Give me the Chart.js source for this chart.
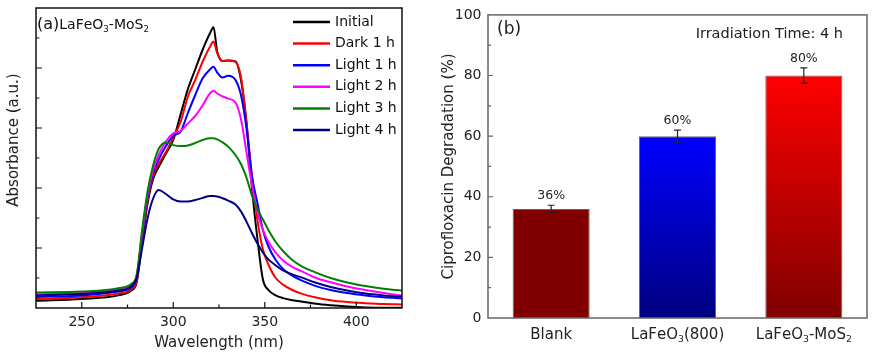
<!DOCTYPE html>
<html>
<head>
<meta charset="utf-8">
<script src="https://cdn.jsdelivr.net/npm/chart.js@4"></script>
<style>
  body { margin: 0; background: #fff; }
  #wrap { position: relative; width: 872px; height: 356px; }
  canvas { position: absolute; top: 0; }
</style>
</head>
<body>
<div id="wrap">
  <canvas id="spec" width="436" height="356" style="left:0"></canvas>
  <canvas id="bars" width="436" height="356" style="left:436px"></canvas>
</div>
<script>
// ---- (a) UV-vis spectra ----
const wavelengths = [225, 250, 270, 277, 280, 283, 286, 289, 292, 296, 300, 304, 308, 312, 316, 320, 322, 324, 327, 330, 334, 337, 340, 343, 346, 349, 352, 356, 360, 365, 370, 378, 386, 395, 405, 415, 425];
const initial = [0.24, 0.30, 0.42, 0.58, 0.85, 2.2, 3.5, 4.3, 4.7, 5.15, 5.6, 6.45, 7.3, 7.95, 8.6, 9.15, 9.36, 8.55, 8.23, 8.25, 8.22, 7.6, 6.2, 4.0, 2.3, 0.95, 0.6, 0.42, 0.33, 0.26, 0.22, 0.14, 0.09, 0.05, 0.02, 0.01, 0.01];
const dark1h = [0.30, 0.36, 0.48, 0.62, 0.9, 2.3, 3.6, 4.4, 4.8, 5.2, 5.68, 6.2, 7.05, 7.6, 8.2, 8.7, 8.88, 8.5, 8.23, 8.25, 8.2, 7.7, 6.2, 4.4, 2.93, 1.95, 1.45, 1.0, 0.78, 0.6, 0.48, 0.35, 0.26, 0.2, 0.16, 0.13, 0.12];
const light1h = [0.37, 0.42, 0.55, 0.68, 1.0, 2.4, 3.7, 4.5, 4.95, 5.4, 5.74, 5.88, 6.5, 7.1, 7.65, 7.95, 8.04, 7.85, 7.68, 7.74, 7.6, 7.1, 6.0, 4.4, 3.5, 2.6, 2.05, 1.6, 1.3, 1.08, 0.92, 0.73, 0.6, 0.5, 0.42, 0.36, 0.32];
const light2h = [0.45, 0.5, 0.62, 0.75, 1.05, 2.5, 3.8, 4.6, 5.1, 5.55, 5.82, 5.9, 6.15, 6.4, 6.75, 7.15, 7.24, 7.15, 7.05, 6.98, 6.85, 6.3, 5.2, 4.1, 3.2, 2.6, 2.2, 1.85, 1.58, 1.37, 1.23, 1.0, 0.86, 0.72, 0.6, 0.5, 0.42];
const light3h = [0.52, 0.55, 0.66, 0.8, 1.1, 2.6, 3.9, 4.75, 5.3, 5.52, 5.43, 5.4, 5.42, 5.5, 5.6, 5.66, 5.66, 5.62, 5.52, 5.38, 5.1, 4.8, 4.35, 3.75, 3.3, 2.95, 2.6, 2.2, 1.9, 1.6, 1.4, 1.18, 1.0, 0.85, 0.73, 0.64, 0.58];
const light4h = [0.42, 0.47, 0.58, 0.72, 1.0, 2.0, 3.0, 3.65, 3.93, 3.8, 3.62, 3.55, 3.55, 3.6, 3.67, 3.73, 3.73, 3.72, 3.66, 3.58, 3.45, 3.22, 2.88, 2.5, 2.15, 1.85, 1.62, 1.42, 1.25, 1.12, 1.02, 0.84, 0.7, 0.58, 0.48, 0.42, 0.38];
const seriesNames = ['Initial', 'Dark 1 h', 'Light 1 h', 'Light 2 h', 'Light 3 h', 'Light 4 h'];
const seriesValues = [initial, dark1h, light1h, light2h, light3h, light4h];
const seriesColors = ['#000000', '#ff0000', '#0000ff', '#ff00ff', '#008000', '#000080'];
const xMajor = [250, 300, 350, 400];
const xMinor = [275, 325, 375];
const yMajorA = [2, 4, 6, 8];
const yMinorA = [1, 3, 5, 7, 9];

// ---- (b) degradation ----
const categories = ['Blank', 'LaFeO_3(800)', 'LaFeO_3-MoS_2'];
const degradation = [36, 60, 80];
const errors = [1.2, 2, 2.5];
const barTop = ['#800000', '#0000ff', '#ff0000'];
const barBottom = ['#800000', '#000080', '#800000'];
const yMajorB = [20, 40, 60, 80];
const yMinorB = [10, 30, 50, 70, 90];

const FONT = '"DejaVu Sans", Verdana, sans-serif';
Chart.defaults.font.family = FONT;
Chart.defaults.color = '#222';

// text with "_x" meaning subscript x
function richText(ctx, text, x, y, size, align) {
  const parts = [];
  for (let i = 0; i < text.length; i++) {
    if (text[i] === '_') { parts.push({ t: text[i + 1], sub: true }); i++; }
    else parts.push({ t: text[i], sub: false });
  }
  let w = 0;
  parts.forEach(p => {
    ctx.font = (p.sub ? size * 0.62 : size) + 'px ' + FONT;
    p.w = ctx.measureText(p.t).width;
    w += p.w;
  });
  let cx = align === 'center' ? x - w / 2 : align === 'right' ? x - w : x;
  ctx.textAlign = 'left';
  ctx.textBaseline = 'alphabetic';
  parts.forEach(p => {
    ctx.font = (p.sub ? size * 0.62 : size) + 'px ' + FONT;
    ctx.fillText(p.t, cx, p.sub ? y + size * 0.24 : y);
    cx += p.w;
  });
}

function boxAndTicks(chart, color, xt, yt) {
  const { ctx, chartArea: a, scales } = chart;
  ctx.save();
  ctx.strokeStyle = color;
  ctx.lineWidth = 1.5;
  ctx.strokeRect(a.left, a.top, a.right - a.left, a.bottom - a.top);
  ctx.lineWidth = 1.2;
  ctx.beginPath();
  xt.forEach(([vals, len]) => vals.forEach(v => {
    const px = scales.x.getPixelForValue(v);
    ctx.moveTo(px, a.bottom); ctx.lineTo(px, a.bottom - len);
  }));
  yt.forEach(([vals, len]) => vals.forEach(v => {
    const py = scales.y.getPixelForValue(v);
    ctx.moveTo(a.left, py); ctx.lineTo(a.left + len, py);
  }));
  ctx.stroke();
  ctx.restore();
}

const frameA = {
  id: 'frameA',
  afterDraw(chart) {
    boxAndTicks(chart, '#111', [[xMajor, 6], [xMinor, 3.5]], [[yMajorA, 6], [yMinorA, 3.5]]);
    const ctx = chart.ctx;
    ctx.save();
    ctx.fillStyle = '#111';
    ctx.font = '16px ' + FONT;
    ctx.textBaseline = 'alphabetic';
    ctx.fillText('(a)', 37, 29);
    const w = ctx.measureText('(a)').width;
    richText(ctx, 'LaFeO_3-MoS_2', 37 + w, 29, 14, 'left');
    // y title sits a little above the axis centre in the original
    ctx.save();
    ctx.translate(14, 140);
    ctx.rotate(-Math.PI / 2);
    ctx.font = '15px ' + FONT;
    ctx.fillStyle = '#222';
    ctx.textAlign = 'center';
    ctx.textBaseline = 'middle';
    ctx.fillText('Absorbance (a.u.)', 0, 0);
    ctx.restore();
    // legend
    chart.data.datasets.forEach((ds, i) => {
      const y = 22 + i * 21.6;
      ctx.strokeStyle = ds.borderColor;
      ctx.lineWidth = 2.5;
      ctx.beginPath(); ctx.moveTo(293, y); ctx.lineTo(330, y); ctx.stroke();
      ctx.fillStyle = '#111';
      ctx.font = '14px ' + FONT;
      ctx.textBaseline = 'middle';
      ctx.fillText(ds.label, 335, y);
    });
    ctx.restore();
  }
};

new Chart(document.getElementById('spec'), {
  type: 'line',
  data: {
    datasets: seriesNames.map((name, i) => ({
      label: name,
      data: wavelengths.map((w, j) => ({ x: w, y: seriesValues[i][j] })),
      borderColor: seriesColors[i],
      borderWidth: 2,
      pointRadius: 0,
      cubicInterpolationMode: 'monotone',
      fill: false,
      order: seriesNames.length - i
    }))
  },
  options: {
    responsive: false,
    animation: false,
    devicePixelRatio: 1,
    layout: { padding: { top: 8, right: 34, left: 0, bottom: 0 } },
    plugins: { legend: { display: false }, tooltip: { enabled: false } },
    scales: {
      x: {
        type: 'linear', min: 225, max: 425,
        afterBuildTicks: s => { s.ticks = xMajor.map(v => ({ value: v })); },
        afterFit: s => { s.height = 48; },
        grid: { display: false, tickLength: 0 }, border: { display: false },
        ticks: { font: { size: 14 }, padding: 6, maxRotation: 0 },
        title: { display: true, text: 'Wavelength (nm)', font: { size: 15 }, padding: { top: 0, bottom: 4 } }
      },
      y: {
        min: 0, max: 10,
        afterFit: s => { s.width = 36; },
        grid: { display: false, tickLength: 0 }, border: { display: false },
        ticks: { display: false }
      }
    }
  },
  plugins: [frameA]
});

const plain = s => s.replace(/_/g, '');

const frameB = {
  id: 'frameB',
  afterDraw(chart) {
    boxAndTicks(chart, '#666', [], [[yMajorB, 5], [yMinorB, 3]]);
    const { ctx, scales } = chart;
    const meta = chart.getDatasetMeta(0);
    ctx.save();
    // error bars and value labels
    degradation.forEach((v, i) => {
      const x = meta.data[i].x;
      const yt = scales.y.getPixelForValue(v + errors[i]);
      const yb = scales.y.getPixelForValue(v - errors[i]);
      ctx.strokeStyle = '#222';
      ctx.lineWidth = 1.2;
      ctx.beginPath();
      ctx.moveTo(x, yt); ctx.lineTo(x, yb);
      ctx.moveTo(x - 3.5, yt); ctx.lineTo(x + 3.5, yt);
      ctx.moveTo(x - 3.5, yb); ctx.lineTo(x + 3.5, yb);
      ctx.stroke();
      ctx.fillStyle = '#222';
      ctx.font = '12.5px ' + FONT;
      ctx.textAlign = 'center';
      ctx.textBaseline = 'middle';
      ctx.fillText(v + '%', x, yt - 9);
    });
    // category labels
    ctx.fillStyle = '#222';
    categories.forEach((c, i) => {
      richText(ctx, c, scales.x.getPixelForValue(i), 338.5, 15, 'center');
    });
    ctx.font = '17px ' + FONT;
    ctx.textAlign = 'left';
    ctx.textBaseline = 'alphabetic';
    ctx.fillText('(b)', 61, 34);
    ctx.font = '14.5px ' + FONT;
    ctx.textAlign = 'right';
    ctx.fillText('Irradiation Time: 4 h', 407, 37.5);
    ctx.restore();
  }
};

new Chart(document.getElementById('bars'), {
  type: 'bar',
  data: {
    labels: categories.map(plain),
    datasets: [{
      data: degradation,
      backgroundColor: c => {
        const chart = c.chart;
        const i = c.dataIndex;
        if (!chart.chartArea || i === undefined) return barTop[i] || '#800000';
        const y = chart.scales.y;
        const g = chart.ctx.createLinearGradient(0, y.getPixelForValue(degradation[i]), 0, y.getPixelForValue(0));
        g.addColorStop(0, barTop[i]);
        g.addColorStop(1, barBottom[i]);
        return g;
      },
      borderColor: '#666',
      borderWidth: 1,
      barPercentage: 0.61,
      categoryPercentage: 1
    }]
  },
  options: {
    responsive: false,
    animation: false,
    devicePixelRatio: 1,
    layout: { padding: { top: 13, right: 5, left: 0, bottom: 0 } },
    plugins: { legend: { display: false }, tooltip: { enabled: false } },
    scales: {
      x: {
        afterFit: s => { s.height = 38; },
        grid: { display: false, tickLength: 0 }, border: { display: false },
        ticks: { display: false }
      },
      y: {
        min: 0, max: 100,
        afterFit: s => { s.width = 52; },
        grid: { display: false, tickLength: 0 }, border: { display: false },
        ticks: { stepSize: 20, font: { size: 14 }, padding: 6.5 },
        title: { display: true, text: 'Ciprofloxacin Degradation (%)', font: { size: 15 }, padding: { top: 4, bottom: 0 } }
      }
    }
  },
  plugins: [frameB]
});
</script>
</body>
</html>
